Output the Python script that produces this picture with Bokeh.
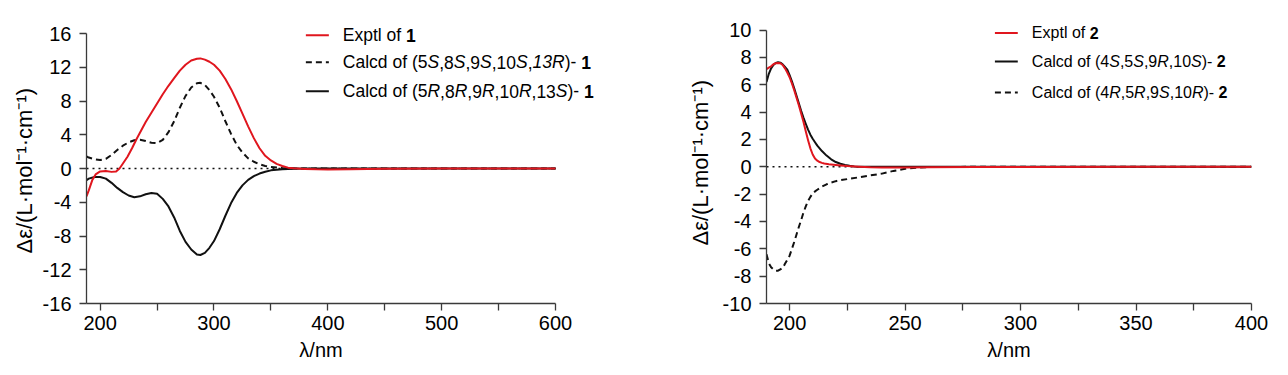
from bokeh.plotting import figure
from bokeh.models import FixedTicker, Label, Arrow, Range1d, Title
from bokeh.layouts import row
from bokeh.embed import file_html
from bokeh.resources import INLINE

# ---------------- data ----------------
# Left panel: compound 1
exp1_x = [188, 190, 193, 196, 200, 205, 210, 214, 217, 220, 224, 228, 232, 236, 240, 245, 250, 255,
          260, 265, 270, 275, 280, 285, 288, 292, 296, 300, 305, 310, 315, 320, 325, 330, 335, 340,
          345, 350, 355, 360, 365, 370, 380, 390, 400, 420, 450, 500, 550, 600]
exp1_y = [-3.3, -2.6, -1.4, -0.7, -0.35, -0.3, -0.4, -0.35, 0.0, 0.6, 1.4, 2.4, 3.5, 4.5, 5.5, 6.6,
          7.7, 8.8, 9.8, 10.7, 11.6, 12.3, 12.8, 13.0, 13.05, 12.9, 12.65, 12.3, 11.6, 10.6, 9.4,
          8.0, 6.5, 5.0, 3.6, 2.4, 1.5, 0.95, 0.55, 0.3, 0.1, 0.02, -0.05, -0.1, -0.12, -0.08,
          -0.03, 0.0, 0.0, 0.0]

calc1S_x = [188, 190, 195, 200, 205, 210, 215, 220, 225, 230, 235, 240, 245, 250, 255, 260, 265,
            270, 275, 280, 285, 288, 292, 296, 300, 305, 310, 315, 320, 325, 330, 335, 340, 345,
            350, 360, 370, 380, 400, 450, 500, 550, 600]
calc1S_y = [1.45, 1.3, 1.1, 1.0, 1.15, 1.6, 2.2, 2.7, 3.1, 3.35, 3.4, 3.25, 3.05, 3.0, 3.4, 4.3,
            5.6, 7.2, 8.6, 9.6, 10.1, 10.15, 9.9, 9.3, 8.5, 7.2, 5.6, 4.1, 2.8, 1.9, 1.2, 0.8, 0.5,
            0.3, 0.18, 0.06, 0.02, 0.0, 0.0, 0.0, 0.0, 0.0, 0.0]

calc1R_x = [188, 190, 195, 200, 205, 210, 215, 220, 225, 230, 235, 240, 245, 250, 255, 260, 265,
            270, 275, 280, 285, 288, 292, 296, 300, 305, 310, 315, 320, 325, 330, 335, 340, 345,
            350, 360, 370, 380, 400, 450, 500, 550, 600]
calc1R_y = [-1.4, -1.2, -1.0, -1.0, -1.2, -1.7, -2.3, -2.8, -3.2, -3.4, -3.3, -3.05, -2.9, -3.0,
            -3.6, -4.5, -5.8, -7.4, -8.7, -9.6, -10.2, -10.25, -10.0, -9.4, -8.6, -7.2, -5.6, -4.1,
            -2.9, -2.0, -1.35, -0.9, -0.6, -0.38, -0.22, -0.08, -0.03, 0.0, 0.0, 0.0, 0.0, 0.0, 0.0]

# Right panel: compound 2
exp2_x = [190, 191, 192, 193, 194, 195, 196, 197, 198, 199, 200, 201, 202, 203, 204, 205, 206, 207,
          208, 209, 210, 211, 212, 213, 214, 215, 217, 219, 222, 225, 230, 235, 240, 250, 260, 280,
          300, 350, 400]
exp2_y = [7.15, 7.25, 7.35, 7.5, 7.58, 7.6, 7.58, 7.45, 7.2, 6.9, 6.55, 6.1, 5.6, 5.05, 4.5, 3.9,
          3.3, 2.6, 1.95, 1.35, 0.9, 0.6, 0.45, 0.35, 0.29, 0.24, 0.19, 0.15, 0.1, 0.05, 0.0, -0.04,
          -0.05, -0.05, -0.03, -0.02, -0.02, 0.0, 0.0]

calc2S_x = [190, 191, 192, 193, 194, 195, 196, 197, 198, 199, 200, 201, 202, 203, 204, 205, 206,
            207, 208, 209, 210, 211, 212, 214, 216, 218, 220, 222, 224, 226, 228, 230, 235, 240,
            260, 300, 350, 400]
calc2S_y = [6.2, 6.8, 7.2, 7.45, 7.6, 7.65, 7.62, 7.5, 7.3, 7.1, 6.7, 6.25, 5.75, 5.2, 4.65, 4.1,
            3.6, 3.15, 2.72, 2.35, 2.05, 1.8, 1.55, 1.15, 0.82, 0.55, 0.35, 0.22, 0.13, 0.07, 0.03,
            0.01, 0.0, 0.0, 0.0, 0.0, 0.0, 0.0]

calc2R_x = [190, 191, 192, 193, 194, 195, 196, 197, 198, 199, 200, 201, 202, 203, 204, 205, 206,
            207, 208, 209, 210, 211, 212, 214, 216, 218, 220, 222, 225, 230, 235, 240, 245, 250,
            255, 260, 280, 300, 350, 400]
calc2R_y = [-6.4, -7.05, -7.35, -7.5, -7.6, -7.6, -7.5, -7.4, -7.1, -6.8, -6.5, -6.0, -5.5, -4.95,
            -4.4, -3.9, -3.35, -2.9, -2.5, -2.2, -1.95, -1.8, -1.68, -1.45, -1.28, -1.15, -1.05,
            -0.98, -0.9, -0.77, -0.63, -0.5, -0.3, -0.15, -0.06, -0.02, 0.0, 0.0, 0.0, 0.0]

# axis extents and ticks
left_xlim = (188, 600)
left_ylim = (-16, 16)
right_xlim = (190, 400)
right_ylim = (-10, 10)
left_xticks = [200, 300, 400, 500, 600]
left_xminor = [250, 350, 450, 550]
left_yticks = [-16, -12, -8, -4, 0, 4, 8, 12, 16]
right_xticks = [200, 250, 300, 350, 400]
right_xminor = [225, 275, 325, 375]
right_yticks = [-10, -8, -6, -4, -2, 0, 2, 4, 6, 8, 10]

x_label = "λ/nm"
y_label = "Δε/(L·mol⁻¹·cm⁻¹)"

# legend texts: (segment, style)
left_legend = [
    [("Exptl of ", "normal"), ("1", "bold")],
    [("Calcd of (5", "normal"), ("S", "italic"), (",8", "normal"), ("S", "italic"),
     (",9", "normal"), ("S", "italic"), (",10", "normal"), ("S", "italic"), (",", "normal"),
     ("13R", "italic"), (")- ", "normal"), ("1", "bold")],
    [("Calcd of (5", "normal"), ("R", "italic"), (",8", "normal"), ("R", "italic"),
     (",9", "normal"), ("R", "italic"), (",10", "normal"), ("R", "italic"), (",13", "normal"),
     ("S", "italic"), (")- ", "normal"), ("1", "bold")],
]
right_legend = [
    [("Exptl of ", "normal"), ("2", "bold")],
    [("Calcd of (4", "normal"), ("S", "italic"), (",5", "normal"), ("S", "italic"),
     (",9", "normal"), ("R", "italic"), (",10", "normal"), ("S", "italic"), (")- ", "normal"),
     ("2", "bold")],
    [("Calcd of (4", "normal"), ("R", "italic"), (",5", "normal"), ("R", "italic"),
     (",9", "normal"), ("S", "italic"), (",10", "normal"), ("R", "italic"), (")- ", "normal"),
     ("2", "bold")],
]

# ---------------- styling ----------------
FONT = "Liberation Sans"
RED = "#E0161E"
BLACK = "#111111"
AXIS = "#3a3a3a"

# Arial / Liberation Sans advance widths (per 1000 em)
ADV = {" ": 278, "(": 333, ")": 333, ",": 278, "-": 333, "C": 722, "E": 667, "a": 556, "c": 500,
       "d": 556, "f": 278, "l": 222, "o": 556, "p": 556, "t": 278, "x": 500, "S": 667, "R": 722,
       "λ": 500, "/": 278, "n": 556, "m": 833}
for _d in "0123456789":
    ADV[_d] = 556


def text_w(s, fs):
    return sum(ADV.get(c, 556) for c in s) * fs / 1000.0


def make_fig(xlim, ylim, x_end, y_end, fw, fh, bl, bt, br, bb, xt, xm, yt,
             px_per_x_vis, ylab_offset, ylab_standoff):
    p = figure(frame_width=fw, frame_height=fh,
               x_range=Range1d(xlim[0], x_end), y_range=Range1d(ylim[0], y_end),
               output_backend="svg", toolbar_location=None,
               min_border_left=bl, min_border_top=bt, min_border_right=br, min_border_bottom=bb)
    p.grid.visible = False
    p.outline_line_color = None
    p.background_fill_color = "white"
    p.border_fill_color = "white"
    p.xaxis.ticker = FixedTicker(ticks=xt, minor_ticks=xm)
    p.yaxis.ticker = FixedTicker(ticks=yt, minor_ticks=[])
    p.xaxis.bounds = xlim
    p.yaxis.bounds = ylim
    p.xaxis.major_label_overrides = {t: str(t) for t in xt}
    p.yaxis.major_label_overrides = {t: str(t) for t in yt}
    for ax in (p.xaxis[0], p.yaxis[0]):
        ax.axis_line_color = AXIS
        ax.axis_line_width = 1.3
        ax.major_tick_line_color = AXIS
        ax.minor_tick_line_color = AXIS
        ax.major_tick_line_width = 1.3
        ax.minor_tick_line_width = 1.3
        ax.major_tick_in = 0
        ax.major_tick_out = 7
        ax.minor_tick_in = 0
        ax.minor_tick_out = 7
        ax.major_label_text_font = FONT
        ax.major_label_text_font_size = "20px"
        ax.major_label_text_color = "black"
    p.xaxis.major_label_standoff = 5
    p.yaxis.major_label_standoff = 8
    # axis titles as side titles so they stay centred on the visible axis extent
    vis_w = (xlim[1] - xlim[0]) * px_per_x_vis
    p.add_layout(Title(text=x_label, align="left", offset=vis_w / 2 - text_w(x_label, 20) / 2,
                       text_font=FONT, text_font_size="20px", text_font_style="normal",
                       text_color="black", standoff=9), "below")
    p.add_layout(Title(text=y_label, align="left", offset=ylab_offset,
                       text_font=FONT, text_font_size="22px", text_font_style="normal",
                       text_color="black", standoff=ylab_standoff), "left")
    # dotted zero line over the plotted wavelength range
    p.segment(x0=[xlim[0]], y0=[0], x1=[xlim[1]], y1=[0], line_color=BLACK, line_width=1.6,
              line_dash="2 4", level="underlay")
    return p


def add_legend(p, rows, styles, x_line0, x_line1, x_text, ys, fs, px_per_x):
    for segs, (color, dash), y in zip(rows, styles, ys):
        p.add_layout(Arrow(end=None, x_start=x_line0, y_start=y, x_end=x_line1, y_end=y,
                           line_color=color, line_width=2, line_dash=dash))
        x = x_text
        for txt, st in segs:
            p.add_layout(Label(x=x, y=y, text=txt, text_font=FONT, text_font_size=f"{fs}px",
                               text_font_style=st, text_baseline="middle", text_align="left",
                               text_color="black"))
            x += text_w(txt, fs) / px_per_x


# ---------------- left figure ----------------
L_PPX = 469 / (left_xlim[1] - left_xlim[0])        # px per nm
L_PPY = 270 / (left_ylim[1] - left_ylim[0])        # px per unit
L_FW, L_FH = 515, 283
L_XEND = left_xlim[0] + L_FW / L_PPX
L_YEND = left_ylim[0] + L_FH / L_PPY
p1 = make_fig(left_xlim, left_ylim, L_XEND, L_YEND, L_FW, L_FH, 86, 20, 75, 50,
              left_xticks, left_xminor, left_yticks, L_PPX, 50, 5)
p1.line(calc1S_x, calc1S_y, line_color=BLACK, line_width=2, line_dash="6 4", line_join="round")
p1.line(calc1R_x, calc1R_y, line_color=BLACK, line_width=2, line_join="round")
p1.line(exp1_x, exp1_y, line_color=RED, line_width=2, line_join="round")
add_legend(p1, left_legend, [(RED, "solid"), (BLACK, "6 4"), (BLACK, "solid")],
           380.7, 400.9, 413.2, [15.8, 12.6, 9.16], 17.5, L_PPX)

# ---------------- right figure ----------------
R_PPX = 485 / (right_xlim[1] - right_xlim[0])
R_PPY = 273.4 / (right_ylim[1] - right_ylim[0])
R_FW, R_FH = 485, 283
R_XEND = right_xlim[1]
R_YEND = right_ylim[0] + R_FH / R_PPY
p2 = make_fig(right_xlim, right_ylim, R_XEND, R_YEND, R_FW, R_FH, 90, 20, 30, 50,
              right_xticks, right_xminor, right_yticks, R_PPX, 58, 14)
p2.line(calc2R_x, calc2R_y, line_color=BLACK, line_width=2, line_dash="6 4", line_join="round")
p2.line(calc2S_x, calc2S_y, line_color=BLACK, line_width=2, line_join="round")
p2.line(exp2_x, exp2_y, line_color=RED, line_width=2, line_join="round")
add_legend(p2, right_legend, [(RED, "solid"), (BLACK, "solid"), (BLACK, "6 4")],
           288.9, 298.8, 304.9, [9.79, 7.71, 5.44], 16, R_PPX)

layout = row(p1, p2)
open("out.html", "w").write(file_html(layout, INLINE))
